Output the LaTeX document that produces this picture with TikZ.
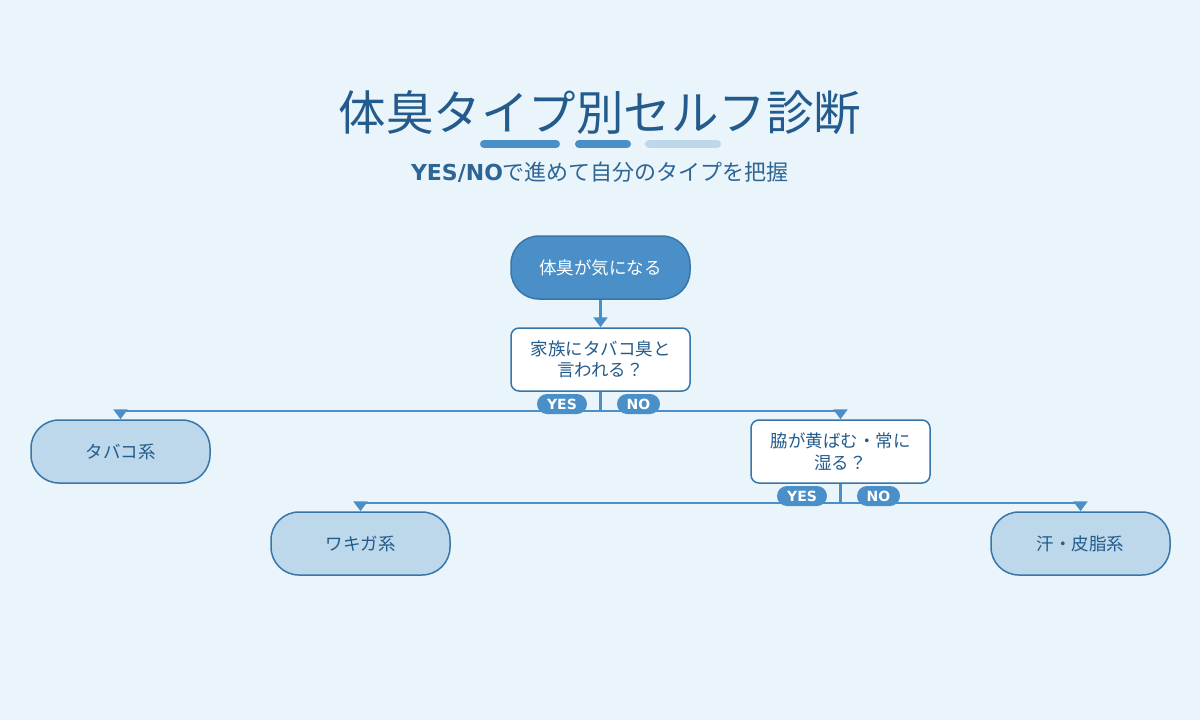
\documentclass[tikz,border=0pt]{standalone}
\usepackage{fontspec}
\setmainfont{Noto Sans CJK JP}
\newfontfamily\latinbold{DejaVu Sans}[BoldFont={DejaVu Sans Bold}]
\usetikzlibrary{arrows.meta,positioning}
\definecolor{bgc}{HTML}{EAF4FB}
\definecolor{titlec}{HTML}{235B8C}
\definecolor{subc}{HTML}{2D6694}
\definecolor{mainblue}{HTML}{4A8FC8}
\definecolor{edgec}{HTML}{3A75A8}
\definecolor{lightblue}{HTML}{BCD8EA}
\tikzset{
  startbox/.style={draw=edgec, line width=1.5pt, fill=mainblue, text=white, rounded corners=28pt,
    minimum width=179pt, minimum height=63pt, inner sep=0pt, font=\fontsize{17.5}{21}\selectfont},
  qbox/.style={draw=edgec, line width=1.5pt, fill=white, text=titlec, rounded corners=8pt,
    minimum width=179pt, minimum height=63pt, inner sep=0pt, align=center, font=\fontsize{17.5}{21.5}\selectfont},
  resbox/.style={draw=edgec, line width=1.5pt, fill=lightblue, text=titlec, rounded corners=28pt,
    minimum width=179pt, minimum height=63pt, inner sep=0pt, font=\fontsize{17.5}{21}\selectfont},
  conn/.style={draw=mainblue, line width=2.5pt},
  arr/.style={conn, -{Triangle[width=14pt,length=10pt]}},
  tag/.style={fill=mainblue, text=white, rounded corners=10pt, minimum height=20pt, inner sep=0pt,
    font=\latinbold\bfseries\fontsize{14}{14}\selectfont},
  bar/.style={line width=8pt, line cap=round},
}
\begin{document}
\begin{tikzpicture}[x=1pt,y=-1pt]
\useasboundingbox[fill=bgc] (0,0) rectangle (1200,720);
% title
\node[text=titlec, font=\fontsize{47.5}{50}\selectfont] (title) at (600,113) {体臭タイプ別セルフ診断};
\draw[bar, draw=mainblue] (484,144) -- (556,144);
\draw[bar, draw=mainblue] (579,144) -- (627,144);
\draw[bar, draw=lightblue] (649,144) -- (717,144);
\node[text=subc, font=\fontsize{22}{24}\selectfont] (sub) at (600,172) {{\latinbold\bfseries YES/NO}で進めて自分のタイプを把握};
% nodes
\node[startbox] (start) at (600.5,267.5) {体臭が気になる};
\node[qbox] (q1) at (600.5,359.5) {家族にタバコ臭と\\言われる？};
\node[resbox] (tabako) at (120.5,451.5) {タバコ系};
\node[qbox] (q2) at (840.5,451.5) {脇が黄ばむ・常に\\湿る？};
\node[resbox] (wakiga) at (360.5,543.5) {ワキガ系};
\node[resbox] (ase) at (1080.5,543.5) {汗・皮脂系};
\coordinate (j1) at (600.5,411);
\coordinate (j2) at (840.5,503);
% connectors
\draw[arr] (start) -- (q1);
\draw[conn] (q1) -- (j1);
\draw[arr] (j1) -| (tabako);
\draw[arr] (j1) -| (q2);
\draw[conn] (q2) -- (j2);
\draw[arr] (j2) -| (wakiga);
\draw[arr] (j2) -| (ase);
% tags
\node[tag, minimum width=50pt] (yes1) at (562,404) {YES};
\node[tag, minimum width=43pt] (no1) at (638.5,404) {NO};
\node[tag, minimum width=50pt] (yes2) at (802,496) {YES};
\node[tag, minimum width=43pt] (no2) at (878.5,496) {NO};
\end{tikzpicture}
\end{document}
